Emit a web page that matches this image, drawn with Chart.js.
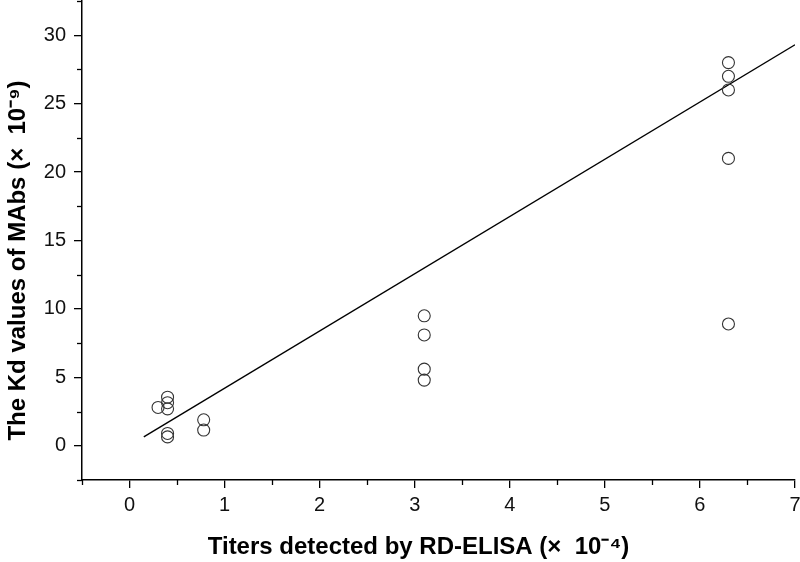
<!DOCTYPE html>
<html>
<head>
<meta charset="utf-8">
<script src="https://cdn.jsdelivr.net/npm/chart.js@4/dist/chart.umd.min.js"></script>
<style>
html,body{margin:0;padding:0;background:#fff;}
#wrap{width:800px;height:562px;position:relative;}
</style>
</head>
<body>
<div id="wrap"><canvas id="c" width="800" height="562"></canvas></div>
<script>
// Data
const titerX = [0.30, 0.40, 0.40, 0.40, 0.40, 0.40, 0.78, 0.78, 3.10, 3.10, 3.10, 3.10, 6.30, 6.30, 6.30, 6.30, 6.30];
const kdY    = [2.80, 3.55, 3.15, 2.70, 0.90, 0.65, 1.90, 1.15, 9.50, 8.10, 5.60, 4.80, 28.0, 27.0, 26.0, 21.0, 8.90];
const fitX = [0.15, 7.0];
const fitY = [0.65, 29.3];
const xTickLabels = ['0','1','2','3','4','5','6','7'];
const yTickLabels = ['0','5','10','15','20','25','30'];
const xTitle = 'Titers detected by RD-ELISA (\u00D7  10\u207B\u2074)';
const yTitle = 'The Kd values of MAbs (\u00D7  10\u207B\u2079)';

const scatterPts = titerX.map((x,i)=>({x:x, y:kdY[i]}));
const fitPts = fitX.map((x,i)=>({x:x, y:fitY[i]}));

const isMajor = (v, step) => Math.abs(v/step - Math.round(v/step)) < 1e-6;
const pad = '\u00A0\u00A0\u00A0\u00A0\u00A0\u00A0';
const zeroPad = (s) => { s.paddingTop = 0; s.paddingBottom = 0; s.paddingLeft = 0; s.paddingRight = 0; };

// draw short minor ticks
const minorTicks = {
  id:'minorTicks',
  afterDraw(chart){
    const ctx = chart.ctx;
    const xs = chart.scales.x, ys = chart.scales.y;
    ctx.save();
    ctx.strokeStyle = '#000';
    ctx.lineWidth = 1.3;
    xs.ticks.forEach(t=>{
      if(!isMajor(t.value,1)){
        const px = Math.round(xs.getPixelForValue(t.value))+0.5;
        ctx.beginPath(); ctx.moveTo(px, xs.top); ctx.lineTo(px, xs.top+5); ctx.stroke();
      }
    });
    ys.ticks.forEach(t=>{
      if(!isMajor(t.value,5)){
        const py = Math.round(ys.getPixelForValue(t.value))+0.5;
        ctx.beginPath(); ctx.moveTo(ys.right, py); ctx.lineTo(ys.right-5, py); ctx.stroke();
      }
    });
    ctx.restore();
  }
};

new Chart(document.getElementById('c'), {
  type:'scatter',
  data:{
    datasets:[
      {
        label:'Kd',
        data:scatterPts,
        showLine:false,
        pointStyle:'circle',
        pointRadius:6,
        pointBorderWidth:1.1,
        pointBorderColor:'#333',
        pointBackgroundColor:'rgba(255,255,255,0)'
      },
      {
        label:'fit',
        data:fitPts,
        showLine:true,
        borderColor:'#000',
        borderWidth:1.4,
        pointRadius:0,
        fill:false
      }
    ]
  },
  options:{
    responsive:false,
    animation:false,
    devicePixelRatio:1,
    layout:{autoPadding:false, padding:{top:1,right:5,left:0,bottom:0}},
    plugins:{legend:{display:false},tooltip:{enabled:false}},
    scales:{
      x:{
        type:'linear',
        min:-0.5, max:7,
        afterFit(s){ s.height = 82; zeroPad(s); },
        border:{display:true,color:'#000',width:1.5},
        grid:{drawOnChartArea:false,drawTicks:true,tickLength:8,
              tickColor:(c)=> isMajor(c.tick.value,1)?'#000':'rgba(0,0,0,0)', lineWidth:1.3},
        ticks:{stepSize:0.5, autoSkip:false, maxRotation:0, padding:5, color:'#111',
               font:{family:'Liberation Sans, Arial, sans-serif',size:20},
               callback:(v)=> isMajor(v,1) ? xTickLabels[Math.round(v)] : ''},
        title:{display:true,text:xTitle + pad,color:'#000',
               font:{family:'Liberation Sans, Arial, sans-serif',size:24,weight:'bold'},
               padding:{top:4,bottom:0}}
      },
      y:{
        type:'linear',
        min:-2.5, max:32.5,
        afterFit(s){ s.width = 82; zeroPad(s); },
        border:{display:true,color:'#000',width:1.5},
        grid:{drawOnChartArea:false,drawTicks:true,tickLength:8,
              tickColor:(c)=> isMajor(c.tick.value,5)?'#000':'rgba(0,0,0,0)', lineWidth:1.3},
        ticks:{stepSize:2.5, autoSkip:false, padding:8, color:'#111',
               font:{family:'Liberation Sans, Arial, sans-serif',size:20},
               callback:(v)=> (isMajor(v,5) && v>=0) ? yTickLabels[Math.round(v/5)] : ''},
        title:{display:true,text:yTitle + pad,color:'#000',
               font:{family:'Liberation Sans, Arial, sans-serif',size:24,weight:'bold'},
               padding:{top:4,bottom:4}}
      }
    }
  },
  plugins:[minorTicks]
});
</script>
</body>
</html>
